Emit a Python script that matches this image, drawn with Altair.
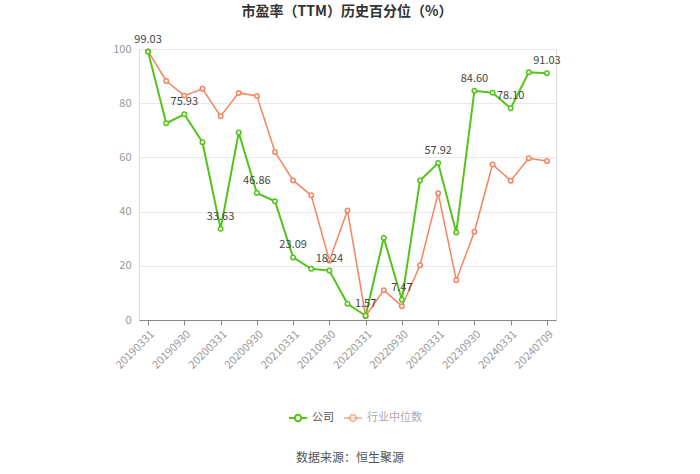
import altair as alt
import pandas as pd

dates = ["20190331","20190630","20190930","20191231","20200331","20200630","20200930","20201231",
         "20210331","20210630","20210930","20211231","20220331","20220630","20220930","20221231",
         "20230331","20230630","20230930","20231231","20240331","20240630","20240709"]
company = [99.03, 72.6, 75.93, 65.6, 33.63, 69.2, 46.86, 43.8, 23.09, 18.9, 18.24, 6.0,
           1.57, 30.3, 7.47, 51.5, 57.92, 32.3, 84.60, 83.9, 78.10, 91.4, 91.03]
industry = [99.2, 88.2, 82.8, 85.3, 75.2, 83.8, 82.7, 62.0, 51.5, 46.0, 21.9, 40.4,
            1.4, 11.0, 5.1, 20.2, 46.8, 14.7, 32.6, 57.4, 51.4, 59.7, 58.7]
tick_labels = dates[::2]
series_names = ["公司", "行业中位数"]
colors = ["#52c41a", "#f5845f"]

df = pd.DataFrame({
    "date": dates * 2,
    "value": company + industry,
    "series": [series_names[0]] * len(dates) + [series_names[1]] * len(dates),
})
lab = pd.DataFrame({"date": dates[::2], "value": company[::2]})
lab["text"] = lab["value"].map(lambda v: f"{v:.2f}")

FONT = "Noto Sans CJK SC"
W, H = 417, 271

x = alt.X("date:N", sort=dates, scale=alt.Scale(type="point", padding=0.5),
          axis=alt.Axis(values=tick_labels, labelAngle=-45, labelColor="#999999", labelFontSize=11,
                        labelFont=FONT, domainColor="#888888", tickColor="#888888", tickSize=5,
                        grid=False, title=None, labelPadding=3))
y = alt.Y("value:Q", scale=alt.Scale(domain=[0, 100], nice=False),
          axis=alt.Axis(values=[0, 20, 40, 60, 80, 100], labelColor="#999999", labelFontSize=11,
                        labelFont=FONT, domain=False, ticks=False, gridColor="#e8e8e8",
                        title=None, labelPadding=8))
color = alt.Color("series:N", scale=alt.Scale(domain=series_names, range=colors), legend=None)

base = alt.Chart(df)
ind_line = base.transform_filter(alt.datum.series == series_names[1]).mark_line(strokeWidth=1.5).encode(x=x, y=y, color=color)
ind_pts = base.transform_filter(alt.datum.series == series_names[1]).mark_point(
    filled=True, fill="white", size=20, strokeWidth=1.5, opacity=1).encode(x=x, y=y, stroke=color)
com_line = base.transform_filter(alt.datum.series == series_names[0]).mark_line(strokeWidth=2).encode(x=x, y=y, color=color)
com_pts = base.transform_filter(alt.datum.series == series_names[0]).mark_point(
    filled=True, fill="white", size=20, strokeWidth=1.5, opacity=1).encode(x=x, y=y, stroke=color)

labels = alt.Chart(lab).mark_text(dy=-12, fontSize=11, color="#444444", font=FONT).encode(
    x=alt.X("date:N", sort=dates), y="value:Q", text="text:N")

# legend
leg = pd.DataFrame({"name": series_names, "c": colors, "tc": ["#555555", "#aaaaaa"],
                    "op": [1.0, 0.55], "lx": [150, 205]})
leg_rule = alt.Chart(leg).mark_rule(strokeWidth=2).encode(
    x=alt.X("lx:Q", scale=None), x2=alt.X2("lx2:Q"), y=alt.value(369),
    color=alt.Color("c:N", scale=None), opacity=alt.Opacity("op:Q", scale=None)
).transform_calculate(lx2="datum.lx + 18")
leg_pt = alt.Chart(leg).mark_point(filled=True, fill="white", size=40, strokeWidth=2).encode(
    x=alt.X("lxc:Q", scale=None), y=alt.value(369),
    stroke=alt.Color("c:N", scale=None), opacity=alt.Opacity("op:Q", scale=None)
).transform_calculate(lxc="datum.lx + 9")
leg_txt = alt.Chart(leg).mark_text(align="left", baseline="middle", fontSize=11, font=FONT).encode(
    x=alt.X("lxt:Q", scale=None), y=alt.value(369), text="name:N",
    color=alt.Color("tc:N", scale=None)
).transform_calculate(lxt="datum.lx + 23")

source = alt.Chart(pd.DataFrame({"t": ["数据来源：恒生聚源"]})).mark_text(
    fontSize=12, font=FONT, color="#555555").encode(
    x=alt.value(211), y=alt.value(409), text="t:N")
title = alt.Chart(pd.DataFrame({"t": ["市盈率（TTM）历史百分位（%）"]})).mark_text(
    fontSize=14, font=FONT, fontWeight="bold", color="#333333").encode(
    x=alt.value(208), y=alt.value(-37), text="t:N")

chart = alt.layer(ind_line, ind_pts, com_line, com_pts, labels, leg_rule, leg_pt, leg_txt, source, title).properties(
    width=W, height=H,
    autosize=alt.AutoSizeParams(type="none"),
    padding={"left": 139, "top": 49, "right": 144, "bottom": 154},
).configure_view(stroke=None).configure(background="white")

chart.save("out.html", embed_options={"renderer": "svg", "actions": False})
